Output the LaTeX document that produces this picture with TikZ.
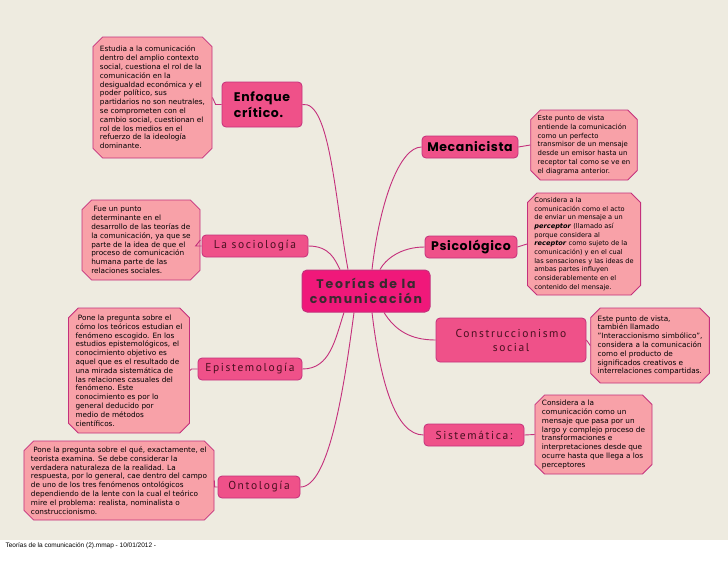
\documentclass[tikz,border=0pt]{standalone}
\usepackage{fontspec}
\usetikzlibrary{shapes.misc}
\setmainfont{DejaVu Sans}
\newfontfamily\heavyfont{Poppins}[LetterSpace=5]
\newfontfamily\hubfont{Poppins}[LetterSpace=14]
\newfontfamily\spacedfont{PT Sans}[LetterSpace=14]
\newfontfamily\footfont{Liberation Sans}
\definecolor{paper}{HTML}{EEEBE0}
\definecolor{linemag}{HTML}{C4307C}
\definecolor{hubpink}{HTML}{F0187A}
\definecolor{toppink}{HTML}{EF5189}
\definecolor{notepink}{HTML}{F8A1A8}
\definecolor{hubtext}{HTML}{3A2A30}
\definecolor{branchtext}{HTML}{4A1020}

\begin{document}
\begin{tikzpicture}[x=1pt,y=-1pt,
  hub/.style={draw=linemag,fill=hubpink,rounded corners=5pt,line width=1pt,align=center,
    font=\hubfont\bfseries\fontsize{12.5}{15}\selectfont,text=hubtext,inner sep=0pt},
  topic/.style={draw=linemag,fill=toppink,rounded corners=4pt,line width=.8pt,align=left,
    font=\heavyfont\bfseries\fontsize{12.5}{15.5}\selectfont,inner sep=0pt},
  branch/.style={draw=linemag,fill=toppink,rounded corners=4pt,line width=.8pt,align=center,
    font=\spacedfont\fontsize{11.5}{14}\selectfont,text=branchtext,inner sep=0pt},
  note/.style={chamfered rectangle,chamfered rectangle xsep=6pt,draw=linemag,fill=notepink,
    line width=.8pt,align=left,font=\fontsize{7.3}{8.8}\selectfont,inner xsep=1pt,inner ysep=0pt},
  link/.style={draw=linemag,line width=.9pt}]
\fill[white] (0,0) rectangle (728,563);
\fill[paper] (0,0) rectangle (728,540);

\node[hub,minimum width=128pt,minimum height=42pt] (teorias) at (366,291) {Teorías de la\\comunicación};

\node[topic,minimum width=80pt,minimum height=45pt] (enfoque) at (262,104.5) {Enfoque\\crítico.};
\node[topic,minimum width=96pt,minimum height=22pt] (mecanicista) at (470,147) {Mecanicista};
\node[topic,minimum width=92pt,minimum height=22pt] (psicologico) at (471,247) {Psicológico};
\node[branch,minimum width=106pt,minimum height=22pt] (sociologia) at (255,246) {La sociología};
\node[branch,minimum width=104pt,minimum height=22pt] (epistemologia) at (250,369) {Epistemología};
\node[branch,minimum width=82pt,minimum height=22pt] (ontologia) at (259,487) {Ontología};
\node[branch,minimum width=150pt,minimum height=44pt] (construccionismo) at (511,340) {Construccionismo\\social};
\node[branch,minimum width=100pt,minimum height=22pt] (sistematica) at (474,435) {Sistemática:};

\node[note,minimum width=115pt,minimum height=121pt] (critico) at (152.5,97.5)
{Estudia a la comunicación\\dentro del amplio contexto\\social, cuestiona el rol de la\\comunicación en la\\desigualdad económica y el\\poder político, sus\\partidarios no son neutrales,\\se comprometen con el\\cambio social, cuestionan el\\rol de los medios en el\\refuerzo de la ideología\\dominante.};
\node[note,minimum width=118pt,minimum height=80pt] (social) at (141,240)
{\ Fue un punto\\determinante en el\\desarrollo de las teorías de\\la comunicación, ya que se\\parte de la idea de que el\\proceso de comunicación\\humana parte de las\\relaciones sociales.};
\node[note,minimum width=114pt,minimum height=125pt] (episteme) at (129,370.5)
{\ Pone la pregunta sobre el\\cómo los teóricos estudian el\\fenómeno escogido. En los\\estudios epistemológicos, el\\conocimiento objetivo es\\aquel que es el resultado de\\una mirada sistemática de\\las relaciones casuales del\\fenómeno. Este\\conocimiento es por lo\\general deducido por\\medio de métodos\\científicos.};
\node[note,minimum width=188pt,minimum height=79pt] (onto) at (119,480.5)
{\ Pone la pregunta sobre el qué, exactamente, el\\teorista examina. Se debe considerar la\\verdadera naturaleza de la realidad. La\\respuesta, por lo general, cae dentro del campo\\de uno de los tres fenómenos ontológicos\\dependiendo de la lente con la cual el teórico\\mire el problema: realista, nominalista o\\construccionismo.};
\node[note,minimum width=84pt,minimum height=70pt,font=\fontsize{6.9}{8.8}\selectfont] (mecanica) at (584,145)
{Este punto de vista\\entiende la comunicación\\como un perfecto\\transmisor de un mensaje\\desde un emisor hasta un\\receptor tal como se ve en\\el diagrama anterior.};
\node[note,minimum width=98pt,minimum height=102pt,font=\fontsize{6.6}{8.7}\selectfont] (psique) at (584,244)
{Considera a la\\comunicación como el acto\\de enviar un mensaje a un\\\textbf{\textit{perceptor}} (llamado así\\porque considera al\\\textbf{\textit{receptor}} como sujeto de la\\comunicación) y en el cual\\las sensaciones y las ideas de\\ambas partes influyen\\considerablemente en el\\contenido del mensaje.};
\node[note,minimum width=114pt,minimum height=75pt] (simbolico) at (650,345.5)
{Este punto de vista,\\también llamado\\"Interaccionismo simbólico",\\considera a la comunicación\\como el producto de\\significados creativos e\\interrelaciones compartidas.};
\node[note,minimum width=107pt,minimum height=79pt] (proceso) at (593.5,434.5)
{Considera a la\\comunicación como un\\mensaje que pasa por un\\largo y complejo proceso de\\transformaciones e\\interpretaciones desde que\\ocurre hasta que llega a los\\perceptores};

\draw[link] (enfoque.east) .. controls (330,100) and (335,200) .. ([xshift=-18pt]teorias.north);
\draw[link] (mecanicista.west) .. controls (400,147) and (380,200) .. ([xshift=6pt]teorias.north);
\draw[link] (sociologia.east) .. controls (330,246) and (335,260) .. ([xshift=-26pt]teorias.north);
\draw[link] (psicologico.west) .. controls (400,247) and (385,260) .. ([xshift=14pt]teorias.north);
\draw[link] (epistemologia.east) .. controls (330,369) and (335,340) .. ([xshift=-22pt]teorias.south);
\draw[link] (ontologia.east) .. controls (330,487) and (345,380) .. ([xshift=-12pt]teorias.south);
\draw[link] (construccionismo.west) .. controls (410,340) and (395,330) .. ([xshift=18pt]teorias.south);
\draw[link] (sistematica.west) .. controls (395,435) and (380,380) .. ([xshift=6pt]teorias.south);

\draw[link] (enfoque.west) -- ++(-6,0) -- (critico.east);
\draw[link] (sociologia.west) -- ++(-6,0) -- (social.east);
\draw[link] (epistemologia.west) -- ++(-6,0) -- (episteme.east);
\draw[link] (ontologia.west) -- ++(-3,0) -- (onto.east);
\draw[link] (mecanicista.east) -- (mecanica.west);
\draw[link] (psicologico.east) -- (psique.west);
\draw[link] (construccionismo.east) -- (simbolico.west);
\draw[link] (sistematica.east) -- (proceso.west);

\node[anchor=west,font=\footfont\fontsize{6.5}{8}\selectfont] (pie) at (2,546) {Teorías de la comunicación (2).mmap - 10/01/2012 -};
\end{tikzpicture}
\end{document}
